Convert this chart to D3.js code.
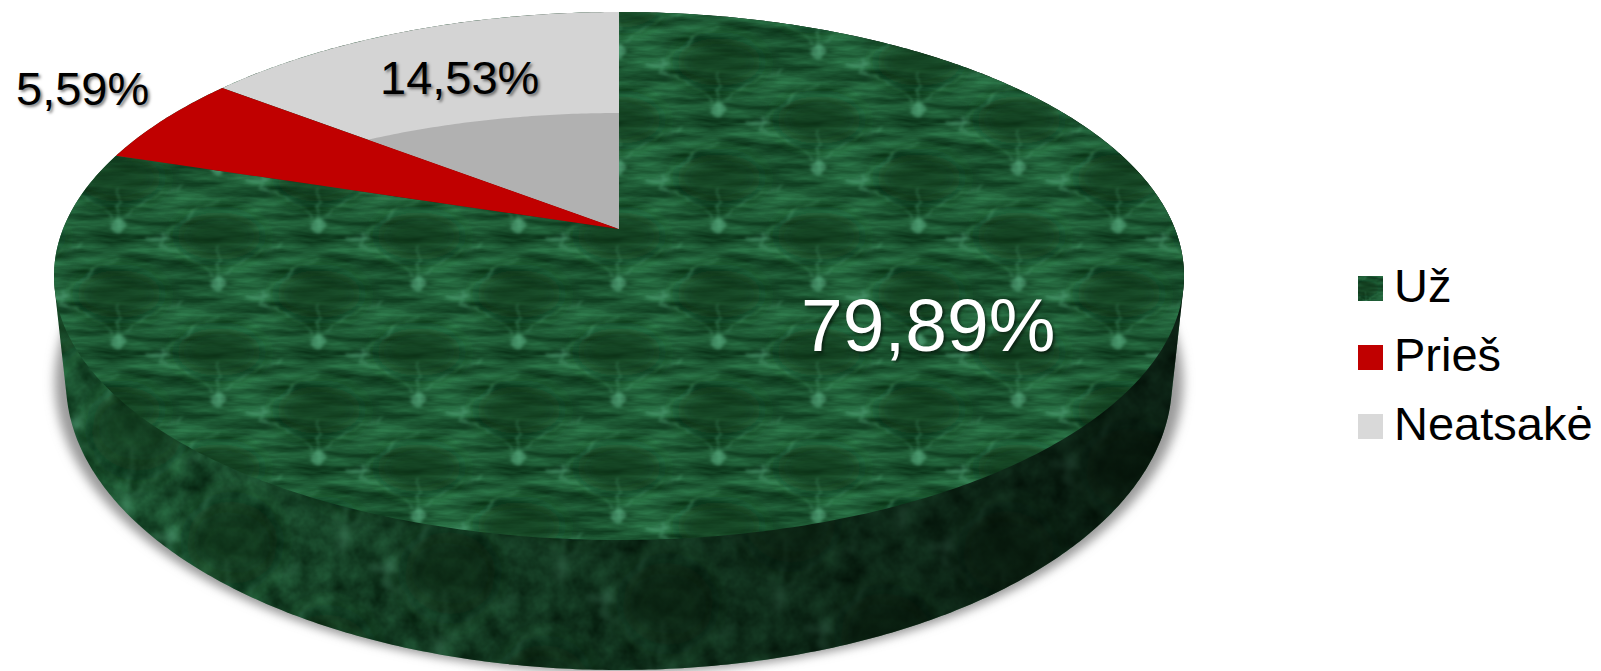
<!DOCTYPE html>
<html>
<head>
<meta charset="utf-8">
<script src="https://cdn.jsdelivr.net/npm/d3@7/dist/d3.min.js"></script>
<style>
  html, body { margin: 0; padding: 0; background: #fff; }
  svg { display: block; }
  text { font-family: "Liberation Sans", Arial, sans-serif; }
</style>
</head>
<body>
<div id="chart-area"></div>
<script>
let categories = ["Už", "Prieš", "Neatsakė"]
let values = [79.89, 5.59, 14.53]
let sliceColors = ["url(#marbleTop)", "#c00000", "#d4d4d4"]
let legendColors = ["url(#marbleLegend)", "#c00000", "#d9d9d9"]

let width = 1601
let height = 671

// the pie is a tilted disc, so a circle is drawn with a little perspective
let tilt = 0.178
function makeDisc(centerY, semiX, semiY) {
  return {
    x: 619,
    y: centerY - semiY * tilt,
    rx: semiX * Math.sqrt(1 - tilt * tilt),
    ry: semiY * (1 - tilt * tilt)
  }
}
let topDisc = makeDisc(276, 565, 264)
let bottomDisc = makeDisc(382, 553, 288)
let innerDisc = makeDisc(358, 553, 245)

function project(disc, angle) {
  let u = Math.sin(angle)
  let v = -Math.cos(angle)
  let w = 1 / (1 - tilt * v)
  return [disc.x + disc.rx * u * w, disc.y + disc.ry * v * w]
}

function ring(disc, start, end) {
  let steps = Math.max(2, Math.ceil((end - start) / 0.01))
  return d3.range(steps + 1).map(i => project(disc, start + (end - start) * i / steps))
}

let line = d3.line()
let fullCircle = 2 * Math.PI

let svg = d3.select("#chart-area").append("svg")
  .attr("width", width)
  .attr("height", height)

let defs = svg.append("defs")

function addNoise(id, frequency) {
  let noise = defs.append("filter")
    .attr("id", id)
    .attr("filterUnits", "userSpaceOnUse")
    .attr("x", 0).attr("y", 0).attr("width", 200).attr("height", 116)
    .attr("color-interpolation-filters", "sRGB")
  noise.append("feTurbulence")
    .attr("type", "fractalNoise")
    .attr("baseFrequency", frequency)
    .attr("numOctaves", 4)
    .attr("seed", 7)
    .attr("stitchTiles", "stitch")
  noise.append("feColorMatrix")
    .attr("values", "0.25 0 0 0 -0.015  0.5 0 0 0 0.09  0.36 0 0 0 0.017  0 0 0 0 1")
}
addNoise("noiseTop", "0.015 0.09")
addNoise("noiseWall", "0.04 0.06")

// wobbly veins instead of clean strokes
let wobble = defs.append("filter")
  .attr("id", "wobble")
  .attr("filterUnits", "userSpaceOnUse")
  .attr("x", -20).attr("y", -20).attr("width", 240).attr("height", 156)
  .attr("color-interpolation-filters", "sRGB")
wobble.append("feTurbulence")
  .attr("type", "fractalNoise")
  .attr("baseFrequency", "0.05 0.09")
  .attr("numOctaves", 2)
  .attr("seed", 3)
  .attr("result", "wave")
wobble.append("feDisplacementMap")
  .attr("in", "SourceGraphic")
  .attr("in2", "wave")
  .attr("scale", 14)
  .attr("xChannelSelector", "R")
  .attr("yChannelSelector", "G")
wobble.append("feGaussianBlur").attr("stdDeviation", 1.8)

defs.append("filter").attr("id", "softer")
  .attr("x", "-50%").attr("y", "-50%").attr("width", "200%").attr("height", "200%")
  .append("feGaussianBlur").attr("stdDeviation", 9)
defs.append("filter").attr("id", "shadowBlur")
  .attr("x", "-5%").attr("y", "-5%").attr("width", "110%").attr("height", "110%")
  .append("feGaussianBlur").attr("stdDeviation", 5)

// veins of the marble, one scale shape per cell of the tile
let veinCells = [[0, 0], [200, 0], [-100, 58], [100, 58], [0, 116], [200, 116], [-100, -58], [100, -58]]
function addMarble(id, noiseId, transform, glow) {
  let pattern = defs.append("pattern")
    .attr("id", id)
    .attr("patternUnits", "userSpaceOnUse")
    .attr("width", 200)
    .attr("height", 116)
    .attr("patternTransform", transform)
  pattern.append("rect")
    .attr("width", 200).attr("height", 116)
    .attr("fill", "#1c5a34")
    .attr("filter", "url(#" + noiseId + ")")
  veinCells.forEach(cell => {
    let g = pattern.append("g")
      .attr("transform", `translate(${cell[0]},${cell[1]})`)
    g.append("ellipse")
      .attr("cx", 100).attr("cy", 50).attr("rx", 42).attr("ry", 24)
      .attr("fill", "#0a3418").attr("opacity", 0.55)
      .attr("filter", "url(#softer)")
    let veins = g.append("g").attr("filter", "url(#wobble)")
    veins.append("path")
      .attr("d", "M40,60 Q85,72 100,100 Q118,70 165,58 M100,100 L98,60 M40,60 Q70,20 100,12")
      .attr("fill", "none")
      .attr("stroke", "#4f9f73")
      .attr("stroke-width", 1.8)
      .attr("opacity", 0.55)
    veins.append("path")
      .attr("d", "M90,100 L102,91 L111,97 L101,106 Z")
      .attr("fill", "#5fb488").attr("opacity", glow)
    veins.append("ellipse")
      .attr("cx", 40).attr("cy", 52).attr("rx", 14).attr("ry", 2.2)
      .attr("fill", "#5fb488").attr("opacity", 0.55)
  })
}
addMarble("marbleTop", "noiseTop", "translate(619,12)", 0.55)
addMarble("marbleWall", "noiseWall", "translate(40,330) rotate(8) scale(1.1,1.7)", 0.2)
addMarble("marbleLegend", "noiseTop", "translate(1358,276) scale(0.3)", 0.55)

let wallShade = defs.append("linearGradient").attr("id", "wallShade")
wallShade.append("stop").attr("offset", 0).attr("stop-color", "#000").attr("stop-opacity", 0.05)
wallShade.append("stop").attr("offset", 0.3).attr("stop-color", "#000").attr("stop-opacity", 0.3)
wallShade.append("stop").attr("offset", 0.7).attr("stop-color", "#000").attr("stop-opacity", 0.55)
wallShade.append("stop").attr("offset", 1).attr("stop-color", "#000").attr("stop-opacity", 0.68)

let pieData = d3.pie().sort(null).value(d => d).startAngle(0).endAngle(fullCircle)(values)

function slicePath(d) {
  let points = ring(topDisc, d.startAngle, d.endAngle)
  points.push([topDisc.x, topDisc.y])
  return line(points) + "Z"
}

defs.append("clipPath").attr("id", "greySlice")
  .append("path").attr("d", slicePath(pieData[2]))

// drop shadow below the disc
svg.append("path")
  .attr("d", line(ring(bottomDisc, 0, fullCircle)) + "Z")
  .attr("transform", "translate(619,382) scale(1.02,1.01) translate(-619,-382)")
  .attr("fill", "#9a9a9a")
  .attr("filter", "url(#shadowBlur)")

// side wall: hull of the top and bottom rims
let hull = d3.polygonHull(ring(topDisc, 0, fullCircle).concat(ring(bottomDisc, 0, fullCircle)))
let wallPath = line(hull) + "Z"
svg.append("path").attr("d", wallPath).attr("fill", "url(#marbleWall)")
svg.append("path").attr("d", wallPath).attr("fill", "url(#wallShade)")

// top faces
svg.selectAll("path.slice")
  .data(pieData)
  .enter()
  .append("path")
    .attr("class", "slice")
    .attr("d", slicePath)
    .attr("fill", (d, i) => sliceColors[i])

svg.append("path")
  .attr("d", line(ring(innerDisc, 0, fullCircle)) + "Z")
  .attr("clip-path", "url(#greySlice)")
  .attr("fill", "#b1b1b1")

svg.selectAll("path.slice").filter((d, i) => i == 1).raise()

// value labels
let labelFormat = d => d3.format(".2f")(d).replace(".", ",") + "%"
let labelSpots = [[801, 351, 75, "#fff"], [16, 105, 47, "#000"], [380, 94, 47, "#000"]]
svg.selectAll("text.value")
  .data(values)
  .enter()
  .append("text")
    .attr("class", "value")
    .attr("x", (d, i) => labelSpots[i][0])
    .attr("y", (d, i) => labelSpots[i][1])
    .attr("font-size", (d, i) => labelSpots[i][2])
    .attr("fill", (d, i) => labelSpots[i][3])
    .style("text-shadow", "2px 2px 3px rgba(0,0,0,0.5)")
    .text(labelFormat)

// legend
let legendY = d3.scalePoint().domain(categories).range([276, 414])
let legend = svg.selectAll("g.legend")
  .data(categories)
  .enter()
  .append("g")
    .attr("class", "legend")
    .attr("transform", d => "translate(1358," + legendY(d) + ")")
legend.append("rect")
  .attr("width", 25)
  .attr("height", 25)
  .attr("fill", (d, i) => legendColors[i])
legend.append("text")
  .attr("x", 36)
  .attr("y", 26)
  .attr("font-size", 47)
  .attr("fill", "#000")
  .text(d => d)
</script>
</body>
</html>
